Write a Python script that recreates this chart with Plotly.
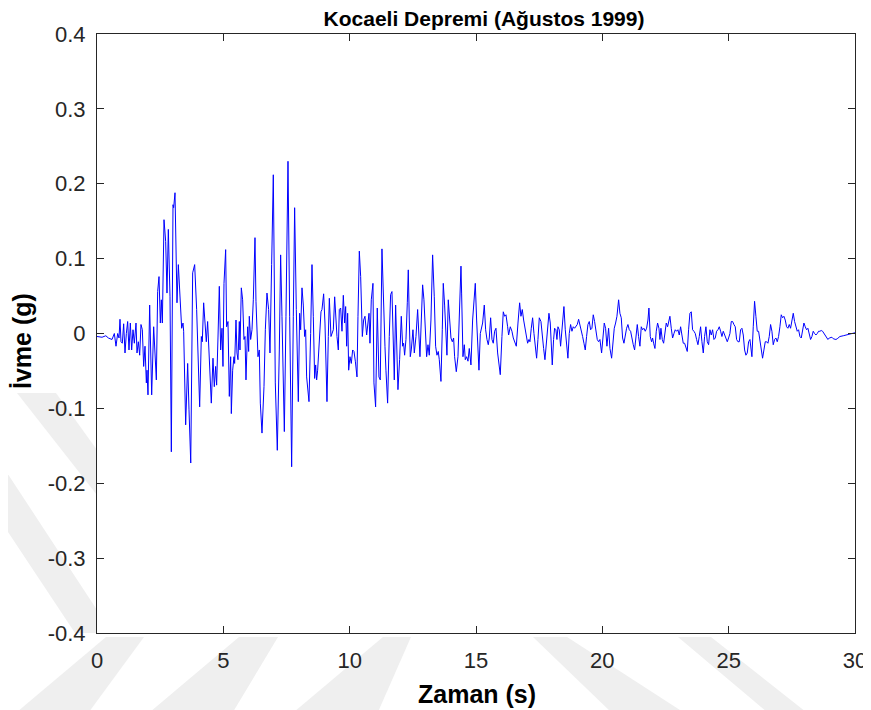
import plotly.graph_objects as go

# ---- data (time in s, acceleration in g) ----
time_s = [
    0.000, 0.200, 0.350, 0.450, 0.594, 0.686, 0.752, 0.818, 0.871, 0.910, 0.950, 1.003, 1.055, 1.108, 1.161,
    1.214, 1.266, 1.319, 1.372, 1.425, 1.478, 1.544, 1.583, 1.636, 1.689, 1.741, 1.794, 1.847, 1.900, 1.953,
    1.979, 2.018, 2.084, 2.164, 2.243, 2.282, 2.348, 2.401, 2.454, 2.507, 2.546, 2.586, 2.652, 2.718, 2.770,
    2.823, 2.889, 2.942, 3.008, 3.034, 3.087, 3.166, 3.219, 3.272, 3.351, 3.404, 3.430, 3.509, 3.588, 3.641,
    3.710,
    3.786, 3.865, 3.944, 3.997, 4.063, 4.129, 4.168, 4.221, 4.260, 4.326, 4.379, 4.432, 4.524, 4.590, 4.643,
    4.696, 4.735, 4.788, 4.841, 4.894, 4.947, 4.986, 5.026, 5.092, 5.131, 5.184, 5.237, 5.290, 5.316, 5.369,
    5.421, 5.448, 5.501, 5.540, 5.580, 5.633, 5.659, 5.712, 5.764, 5.817, 5.857, 5.896, 5.962, 6.002, 6.028,
    6.081, 6.134, 6.187, 6.253, 6.292, 6.371, 6.424, 6.464, 6.530, 6.609, 6.662, 6.727, 6.793, 6.846, 6.912,
    6.978, 7.057, 7.136, 7.216, 7.268,
    7.321, 7.414, 7.479, 7.559, 7.625, 7.704, 7.770, 7.822, 7.888, 7.968, 8.020, 8.060, 8.113, 8.165, 8.218,
    8.258, 8.297, 8.390, 8.456, 8.509, 8.561, 8.614, 8.654, 8.693, 8.733, 8.799, 8.865, 8.904, 8.970, 9.023,
    9.102, 9.155, 9.195, 9.260, 9.313, 9.353, 9.406, 9.458, 9.498, 9.551, 9.590, 9.643, 9.696, 9.749, 9.801,
    9.841, 9.881, 9.920, 9.960, 10.012, 10.065, 10.118, 10.171, 10.224, 10.290, 10.329, 10.382, 10.435, 10.501, 10.553,
    10.606, 10.672, 10.725, 10.765,
    10.803, 10.856, 10.922, 10.961, 11.027, 11.093, 11.159, 11.212, 11.278, 11.331, 11.397, 11.436, 11.502, 11.568, 11.621,
    11.674, 11.726, 11.766, 11.819, 11.858, 11.911, 11.977, 12.043, 12.096, 12.135, 12.175, 12.228, 12.281, 12.320, 12.360,
    12.399, 12.439, 12.505, 12.558, 12.624, 12.690, 12.742, 12.782, 12.835, 12.887, 12.940, 12.993, 13.046, 13.099, 13.151,
    13.217, 13.283, 13.349, 13.402, 13.455, 13.507, 13.547, 13.613, 13.666, 13.705, 13.758, 13.811, 13.850, 13.903, 13.956,
    14.009, 14.062, 14.114, 14.154, 14.220, 14.286, 14.339, 14.405,
    14.431, 14.484, 14.537, 14.576, 14.629, 14.682, 14.734, 14.800, 14.866, 14.919, 14.972, 15.025, 15.077, 15.117, 15.170,
    15.209, 15.262, 15.328, 15.381, 15.434, 15.486, 15.526, 15.579, 15.632, 15.684, 15.737, 15.790, 15.856, 15.922, 15.961,
    16.027, 16.080, 16.133, 16.186, 16.252, 16.291, 16.357, 16.423, 16.476, 16.542, 16.595, 16.661, 16.727, 16.779, 16.832,
    16.885, 16.938, 16.990, 17.043, 17.096, 17.135, 17.188, 17.241, 17.294, 17.347, 17.399, 17.452, 17.505, 17.571, 17.624,
    17.676, 17.729, 17.782, 17.835, 17.887, 17.940,
    18.018, 18.071, 18.111, 18.163, 18.203, 18.243, 18.295, 18.348, 18.414, 18.480, 18.533, 18.586, 18.638, 18.691, 18.744,
    18.797, 18.849, 18.902, 18.955, 19.008, 19.061, 19.113, 19.166, 19.219, 19.272, 19.324, 19.377, 19.430, 19.483, 19.536,
    19.588, 19.641, 19.694, 19.747, 19.799, 19.852, 19.905, 19.971, 20.024, 20.076, 20.129, 20.182, 20.248, 20.301, 20.367,
    20.419, 20.472, 20.525, 20.578, 20.644, 20.696, 20.749, 20.802, 20.855, 20.908, 20.960, 21.013, 21.066, 21.119, 21.171,
    21.224, 21.277, 21.330, 21.383, 21.435, 21.488, 21.541, 21.594, 21.646, 21.699, 21.752, 21.805,
    21.844, 21.897, 21.950, 21.989, 22.029, 22.082, 22.134, 22.187, 22.240, 22.280, 22.319, 22.372, 22.425, 22.477, 22.530,
    22.583, 22.636, 22.675, 22.728, 22.781, 22.834, 22.886, 22.939, 22.992, 23.045, 23.098, 23.150, 23.203, 23.256, 23.309,
    23.361, 23.414, 23.467, 23.520, 23.572, 23.625, 23.678, 23.731, 23.784, 23.836, 23.889, 23.942, 23.995, 24.047, 24.100,
    24.153, 24.206, 24.258, 24.311, 24.364, 24.417, 24.470, 24.522, 24.575, 24.628, 24.681, 24.733, 24.786, 24.839, 24.892,
    24.945, 24.997, 25.050, 25.103, 25.156, 25.208, 25.261, 25.314, 25.367, 25.420, 25.472, 25.525, 25.578, 25.631, 25.683,
    25.736, 25.789, 25.842,
    25.920, 25.973, 26.025, 26.078, 26.131, 26.184, 26.237, 26.289, 26.342, 26.395, 26.448, 26.500, 26.553, 26.606, 26.659,
    26.712, 26.764, 26.817, 26.870, 26.923, 26.975, 27.028, 27.081, 27.134, 27.186, 27.239, 27.292, 27.345, 27.398, 27.450,
    27.503, 27.556, 27.609, 27.661, 27.714, 27.767, 27.820, 27.873, 27.925, 27.978, 28.031, 28.084, 28.136, 28.189, 28.242,
    28.295, 28.347, 28.400, 28.453, 28.506, 28.559, 28.611, 28.664, 28.717, 28.770, 28.822, 28.875, 28.928, 28.981, 29.034,
    29.086, 29.139, 29.192, 29.245, 29.297, 29.350, 29.403, 29.535, 29.667, 29.799, 30.000,
]

accel_g = [
    -0.004, -0.005, -0.003, -0.006, -0.008, 0.000, -0.017, 0.000, -0.006, 0.019, -0.011, -0.013, 0.013, -0.026, 0.000,
    0.016, -0.022, 0.014, -0.022, 0.005, -0.013, 0.014, -0.026, -0.011, -0.029, 0.012, 0.005, -0.044, -0.017, -0.066,
    -0.049, -0.082, 0.038, -0.082, 0.009, -0.026, -0.062, 0.056, 0.076, 0.014, 0.045, 0.014, 0.152, 0.123, 0.054,
    0.139, 0.049, -0.158, 0.172, 0.168, 0.188, 0.041, 0.092, 0.058, 0.007, 0.014, 0.003, -0.122, -0.040, -0.102,
    -0.173,
    0.081, 0.092, 0.032, -0.044, -0.098, -0.004, -0.011, 0.041, 0.023, -0.011, 0.016, -0.024, -0.093, -0.033, -0.071,
    -0.044, -0.069, -0.006, 0.063, -0.022, 0.007, -0.044, 0.067, 0.112, 0.009, 0.016, -0.084, -0.031, -0.107, -0.049,
    -0.031, -0.040, 0.018, -0.026, -0.035, 0.016, -0.022, 0.061, 0.045, -0.008, -0.004, -0.062, 0.009, -0.024, 0.023,
    -0.008, 0.005, 0.045, 0.128, 0.043, -0.031, -0.022, -0.093, -0.133, -0.071, 0.005, 0.054, 0.032, -0.026, 0.092,
    0.212, -0.066, -0.156, -0.022, 0.105,
    0.023, -0.131, 0.023, 0.230, 0.023, -0.178, 0.023, 0.168, 0.032, -0.091, 0.027, 0.005, 0.061, 0.038, -0.004,
    0.005, -0.058, -0.091, 0.000, 0.092, 0.023, -0.060, -0.042, -0.062, -0.049, 0.000, 0.029, 0.032, 0.053, 0.014,
    -0.091, -0.004, 0.047, -0.004, 0.000, 0.005, 0.049, 0.014, -0.004, -0.022, 0.032, 0.034, 0.003, 0.051, 0.014,
    0.036, -0.017, 0.027, -0.049, -0.031, -0.040, -0.022, -0.024, -0.037, -0.058, 0.023, 0.110, 0.076, -0.004, 0.018,
    0.023, -0.002, 0.014, 0.027,
    -0.013, 0.045, 0.067, -0.066, -0.098, 0.034, -0.058, -0.062, 0.113, 0.036, -0.017, -0.049, -0.093, -0.004, 0.052,
    0.056, -0.040, -0.062, 0.038, -0.026, -0.075, -0.035, 0.023, -0.017, -0.013, -0.029, -0.008, 0.041, 0.085, 0.018,
    -0.031, -0.022, 0.005, -0.026, -0.004, 0.032, -0.013, -0.031, 0.018, 0.065, 0.045, 0.005, -0.031, -0.015, -0.029,
    0.018, 0.105, 0.049, -0.017, -0.029, -0.024, -0.035, -0.064, 0.005, 0.067, 0.038, 0.005, -0.029, 0.045, 0.018,
    -0.006, -0.011, -0.006, -0.031, -0.051, -0.031, 0.018, 0.090,
    0.054, -0.031, -0.015, -0.035, -0.031, -0.037, -0.020, -0.042, 0.018, 0.041, 0.067, 0.018, -0.031, -0.049, 0.000,
    0.007, 0.014, 0.038, 0.005, -0.008, -0.015, -0.006, 0.021, -0.008, -0.013, 0.003, 0.007, -0.026, -0.044, -0.055,
    -0.004, 0.029, 0.023, 0.025, 0.009, -0.002, 0.009, 0.003, -0.006, -0.013, -0.017, 0.014, 0.041, 0.023, 0.032,
    0.018, 0.009, -0.002, -0.013, -0.008, -0.011, 0.007, 0.021, 0.000, -0.015, -0.033, -0.008, 0.021, 0.016, -0.008,
    -0.020, -0.035, -0.015, 0.009, 0.027, 0.014,
    -0.042, -0.008, 0.007, 0.005, -0.008, 0.009, 0.005, -0.017, 0.014, 0.036, 0.005, -0.017, -0.033, 0.000, 0.012,
    0.003, 0.009, 0.007, 0.009, 0.012, 0.019, 0.012, 0.007, -0.004, -0.013, -0.022, -0.004, 0.012, 0.016, 0.005,
    0.007, 0.025, 0.016, 0.005, -0.008, -0.011, -0.008, -0.026, -0.004, 0.014, 0.007, -0.017, 0.007, -0.020, -0.033,
    -0.011, 0.007, 0.014, 0.023, 0.045, 0.027, 0.021, -0.006, -0.013, -0.002, 0.007, 0.012, 0.005, 0.003, -0.008,
    -0.015, -0.022, -0.004, 0.012, -0.004, -0.017, 0.009, 0.005, 0.007, 0.003, 0.007, 0.018,
    0.034, -0.004, -0.011, -0.006, -0.013, -0.020, 0.003, 0.014, 0.007, -0.008, 0.007, -0.008, -0.013, 0.003, 0.014,
    0.009, 0.018, 0.023, 0.007, -0.006, 0.000, 0.005, 0.003, 0.005, -0.002, 0.009, -0.002, -0.013, -0.013, -0.020,
    -0.024, 0.005, 0.027, 0.029, 0.005, 0.003, 0.000, -0.008, -0.015, -0.004, 0.009, -0.011, -0.026, -0.004, 0.009,
    -0.011, -0.015, 0.005, -0.002, 0.005, -0.008, -0.006, 0.003, 0.005, 0.009, 0.003, -0.004, 0.003, -0.002, -0.008,
    -0.011, -0.006, 0.000, 0.016, 0.016, 0.012, 0.009, -0.008, -0.011, -0.011, 0.005, 0.007, -0.002, -0.022, -0.029,
    -0.026, -0.011, -0.008,
    -0.031, 0.009, 0.043, 0.023, 0.003, 0.003, -0.008, -0.024, -0.033, -0.022, -0.011, -0.011, -0.013, -0.004, 0.012,
    0.003, -0.015, -0.008, -0.006, -0.011, -0.004, 0.009, 0.025, 0.021, 0.023, 0.018, 0.009, 0.007, 0.012, 0.007,
    0.016, 0.027, 0.016, 0.007, 0.003, 0.005, -0.004, -0.006, 0.005, 0.014, 0.009, 0.005, 0.007, -0.002, -0.008,
    -0.004, 0.003, 0.000, -0.002, 0.000, 0.003, 0.003, 0.004, 0.003, 0.000, -0.003, -0.005, -0.008, -0.006, -0.005,
    -0.005, -0.007, -0.008, -0.008, -0.007, -0.005, -0.004, -0.003, -0.002, 0.000, 0.001,
]

x_ticks = [0, 5, 10, 15, 20, 25, 30]
y_ticks = [-0.4, -0.3, -0.2, -0.1, 0, 0.1, 0.2, 0.3, 0.4]
y_ticklabels = ["-0.4", "-0.3", "-0.2", "-0.1", "0", "0.1", "0.2", "0.3", "0.4"]

title_text = "Kocaeli Depremi (Ağustos 1999)"
x_title = "Zaman (s)"
y_title = "İvme (g)"

# ---- figure geometry (page body has an 8px margin) ----
W, H = 863, 702
ML, MR, MT, MB = 89, 16, 26, 77
PW, PH = W - ML - MR, H - MT - MB
OFF = 8


def to_paper(vx, vy):
    """viewport pixel -> paper coords (for background decoration only)"""
    return (vx - OFF - ML) / PW, (MT + PH - (vy - OFF)) / PH


# faint diagonal watermark bands seen in the margins of the reference
watermark_bands = [
    [(17, 393), (56, 393), (97, 450), (97, 495)],
    [(0, 462), (97, 610), (97, 633), (75, 633), (0, 520)],
    [(17, 712), (89, 712), (144, 637), (106, 637)],
    [(150, 712), (233, 712), (278, 637), (239, 637)],
    [(294, 712), (378, 712), (411, 637), (383, 637)],
    [(533, 637), (567, 637), (683, 712), (611, 712)],
    [(678, 637), (711, 637), (806, 712), (767, 712)],
]

FONT = "Liberation Sans, Arial, sans-serif"
AX = "#262626"

fig = go.Figure()
fig.add_trace(go.Scatter(x=time_s, y=accel_g, mode="lines",
                         line=dict(color="#0000ff", width=1), showlegend=False))

axis_common = dict(showline=True, linecolor=AX, linewidth=1, mirror="ticks",
                   ticks="inside", ticklen=7, tickwidth=1, tickcolor=AX,
                   showgrid=False, zeroline=False, automargin=False,
                   tickfont=dict(family=FONT, size=22, color=AX))

fig.update_xaxes(range=[0, 30], tickvals=x_ticks, ticklabelstandoff=8, **axis_common)
fig.update_yaxes(range=[-0.4, 0.4], tickvals=y_ticks, ticktext=y_ticklabels, ticklabelstandoff=6,
                 **axis_common)

shapes = []
for band in watermark_bands:
    pts = [to_paper(px, py) for px, py in band]
    path = "M " + " L ".join(f"{x:.4f},{y:.4f}" for x, y in pts) + " Z"
    shapes.append(dict(type="path", path=path, xref="paper", yref="paper",
                       fillcolor="#efefef", line=dict(width=0), layer="below"))

ax_title_font = dict(family=FONT, size=25, color="#000000")
annotations = [
    dict(text="<b>" + x_title + "</b>", xref="paper", yref="paper",
         x=to_paper(477, 0)[0], y=to_paper(0, 694)[1], xanchor="center", yanchor="middle",
         showarrow=False, font=ax_title_font),
    dict(text="<b>" + y_title + "</b>", xref="paper", yref="paper",
         x=to_paper(22, 0)[0], y=to_paper(0, 341)[1], xanchor="center", yanchor="middle",
         textangle=-90, showarrow=False, font=ax_title_font),
]

fig.update_layout(
    width=W, height=H,
    margin=dict(l=ML, r=MR, t=MT, b=MB, pad=0, autoexpand=False),
    paper_bgcolor="#ffffff", plot_bgcolor="#ffffff",
    title=dict(text="<b>" + title_text + "</b>", x=to_paper(484, 0)[0], xref="paper", xanchor="center",
               y=1 - (19 - OFF) / H, yref="container", yanchor="middle", automargin=False,
               font=dict(family=FONT, size=21, color="#000000")),
    font=dict(family=FONT),
    shapes=shapes,
    annotations=annotations,
)

fig.write_html("out.html")
